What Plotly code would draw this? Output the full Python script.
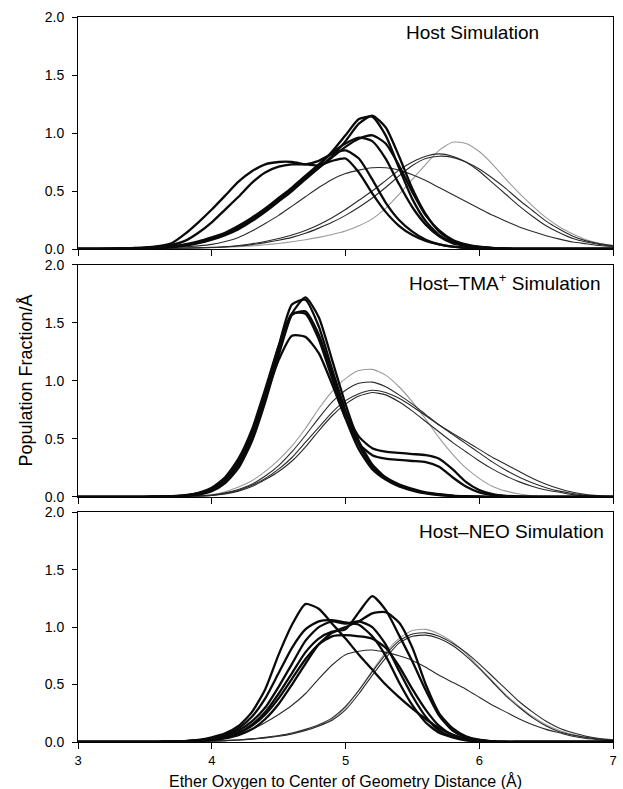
import plotly.graph_objects as go

# x grid (Å)
X = [3.0, 3.1, 3.2, 3.3, 3.4, 3.5, 3.6, 3.7, 3.8, 3.9,
     4.0, 4.1, 4.2, 4.3, 4.4, 4.5, 4.6, 4.7, 4.8, 4.9,
     5.0, 5.1, 5.2, 5.3, 5.4, 5.5, 5.6, 5.7, 5.8, 5.9,
     6.0, 6.1, 6.2, 6.3, 6.4, 6.5, 6.6, 6.7, 6.8, 6.9,
     7.0]

# ---------------- Host Simulation ----------------
host_b1 = [0, 0, 0.002, 0.004, 0.008, 0.013, 0.025, 0.05, 0.13, 0.23,
           0.34, 0.46, 0.58, 0.67, 0.73, 0.75, 0.75, 0.73, 0.72, 0.76,
           0.78, 0.66, 0.48, 0.32, 0.20, 0.12, 0.07, 0.04, 0.02, 0.01,
           0.005, 0, 0, 0, 0, 0, 0, 0, 0, 0,
           0]
host_b2 = [0, 0, 0.001, 0.003, 0.006, 0.01, 0.018, 0.035, 0.07, 0.14,
           0.23, 0.34, 0.45, 0.57, 0.66, 0.71, 0.73, 0.73, 0.76, 0.82,
           0.85, 0.78, 0.60, 0.40, 0.25, 0.15, 0.08, 0.04, 0.02, 0.01,
           0.005, 0, 0, 0, 0, 0, 0, 0, 0, 0,
           0]
host_b3 = [0, 0, 0.001, 0.002, 0.004, 0.007, 0.012, 0.02, 0.035, 0.06,
           0.09, 0.13, 0.19, 0.26, 0.34, 0.43, 0.52, 0.62, 0.72, 0.84,
           0.98, 1.12, 1.14, 0.98, 0.70, 0.43, 0.24, 0.12, 0.06, 0.03,
           0.015, 0.007, 0.003, 0, 0, 0, 0, 0, 0, 0,
           0]
host_b4 = [0, 0, 0.001, 0.002, 0.003, 0.006, 0.01, 0.017, 0.03, 0.05,
           0.08, 0.12, 0.17, 0.24, 0.32, 0.41, 0.50, 0.60, 0.70, 0.80,
           0.93, 1.08, 1.15, 1.05, 0.80, 0.52, 0.30, 0.15, 0.07, 0.035,
           0.015, 0.007, 0.003, 0, 0, 0, 0, 0, 0, 0,
           0]
host_b5 = [0, 0, 0.001, 0.002, 0.004, 0.007, 0.012, 0.02, 0.035, 0.055,
           0.085, 0.125, 0.18, 0.25, 0.33, 0.42, 0.51, 0.61, 0.70, 0.79,
           0.88, 0.95, 0.98, 0.91, 0.72, 0.49, 0.29, 0.16, 0.08, 0.04,
           0.02, 0.01, 0.004, 0, 0, 0, 0, 0, 0, 0,
           0]
host_b6 = [0, 0, 0.001, 0.002, 0.004, 0.007, 0.012, 0.022, 0.04, 0.065,
           0.10, 0.14, 0.20, 0.27, 0.35, 0.44, 0.53, 0.63, 0.73, 0.83,
           0.91, 0.96, 0.93, 0.78, 0.56, 0.36, 0.21, 0.11, 0.05, 0.025,
           0.01, 0.005, 0, 0, 0, 0, 0, 0, 0, 0,
           0]
host_t1 = [0, 0, 0.001, 0.002, 0.003, 0.005, 0.008, 0.012, 0.018, 0.027,
           0.04, 0.065, 0.10, 0.155, 0.22, 0.29, 0.37, 0.45, 0.53, 0.60,
           0.65, 0.68, 0.70, 0.70, 0.68, 0.64, 0.59, 0.53, 0.47, 0.41,
           0.35, 0.29, 0.24, 0.19, 0.15, 0.115, 0.085, 0.06, 0.045, 0.03,
           0.02]
host_t2 = [0, 0, 0, 0.001, 0.002, 0.003, 0.004, 0.006, 0.008, 0.011,
           0.015, 0.02, 0.03, 0.045, 0.065, 0.09, 0.12, 0.16, 0.21, 0.27,
           0.34, 0.42, 0.50, 0.59, 0.68, 0.75, 0.80, 0.82, 0.80, 0.75,
           0.67, 0.57, 0.47, 0.37, 0.28, 0.20, 0.14, 0.09, 0.06, 0.04,
           0.025]
host_t3 = [0, 0, 0, 0.001, 0.002, 0.003, 0.004, 0.005, 0.007, 0.01,
           0.013, 0.018, 0.026, 0.038, 0.055, 0.075, 0.10, 0.135, 0.18, 0.23,
           0.29, 0.36, 0.44, 0.53, 0.63, 0.72, 0.78, 0.80, 0.79, 0.75,
           0.69, 0.61, 0.52, 0.42, 0.33, 0.24, 0.17, 0.11, 0.07, 0.045,
           0.03]
host_g = [0, 0, 0, 0, 0.001, 0.002, 0.003, 0.004, 0.006, 0.008,
          0.011, 0.015, 0.02, 0.027, 0.036, 0.048, 0.063, 0.08, 0.10, 0.125,
          0.155, 0.20, 0.26, 0.35, 0.47, 0.60, 0.73, 0.85, 0.92, 0.91,
          0.84, 0.73, 0.60, 0.48, 0.37, 0.27, 0.19, 0.13, 0.08, 0.05,
          0.03]

# ---------------- Host–TMA+ Simulation ----------------
tma_b1 = [0, 0, 0, 0, 0, 0.001, 0.003, 0.006, 0.012, 0.03,
          0.07, 0.15, 0.30, 0.55, 0.90, 1.30, 1.66, 1.70, 1.47, 1.10,
          0.74, 0.45, 0.26, 0.16, 0.10, 0.06, 0.035, 0.02, 0.01, 0.005,
          0.002, 0, 0, 0, 0, 0, 0, 0, 0, 0,
          0]
tma_b2 = [0, 0, 0, 0, 0, 0.001, 0.002, 0.004, 0.009, 0.02,
          0.05, 0.12, 0.25, 0.48, 0.82, 1.22, 1.58, 1.72, 1.55, 1.18,
          0.80, 0.48, 0.28, 0.17, 0.11, 0.07, 0.04, 0.025, 0.012, 0.006,
          0.003, 0, 0, 0, 0, 0, 0, 0, 0, 0,
          0]
tma_b3 = [0, 0, 0, 0, 0, 0.001, 0.003, 0.006, 0.012, 0.028,
          0.065, 0.14, 0.28, 0.52, 0.88, 1.25, 1.57, 1.60, 1.40, 1.06,
          0.73, 0.52, 0.42, 0.39, 0.38, 0.37, 0.36, 0.33, 0.24, 0.13,
          0.06, 0.025, 0.01, 0.004, 0, 0, 0, 0, 0, 0,
          0]
tma_b4 = [0, 0, 0, 0, 0, 0.001, 0.003, 0.006, 0.012, 0.028,
          0.065, 0.14, 0.28, 0.52, 0.85, 1.18, 1.39, 1.38, 1.24, 0.97,
          0.68, 0.46, 0.36, 0.33, 0.32, 0.31, 0.30, 0.26, 0.17, 0.09,
          0.04, 0.015, 0.005, 0, 0, 0, 0, 0, 0, 0,
          0]
tma_b5 = [0, 0, 0, 0, 0, 0.001, 0.003, 0.007, 0.015, 0.035,
          0.08, 0.17, 0.33, 0.58, 0.93, 1.30, 1.58, 1.58, 1.36, 1.02,
          0.68, 0.41, 0.24, 0.15, 0.09, 0.055, 0.03, 0.015, 0.008, 0.004,
          0.002, 0, 0, 0, 0, 0, 0, 0, 0, 0,
          0]
tma_g = [0, 0, 0, 0, 0, 0.001, 0.002, 0.003, 0.005, 0.01,
         0.02, 0.045, 0.085, 0.14, 0.22, 0.32, 0.44, 0.59, 0.76, 0.91,
         1.02, 1.09, 1.10, 1.05, 0.95, 0.82, 0.67, 0.51, 0.37, 0.25,
         0.16, 0.09, 0.05, 0.025, 0.01, 0.005, 0, 0, 0, 0,
         0]
tma_t2 = [0, 0, 0, 0, 0, 0.001, 0.002, 0.003, 0.005, 0.009,
          0.016, 0.035, 0.065, 0.11, 0.18, 0.27, 0.39, 0.53, 0.68, 0.82,
          0.92, 0.98, 0.99, 0.95, 0.88, 0.80, 0.71, 0.62, 0.54, 0.46,
          0.38, 0.30, 0.23, 0.17, 0.12, 0.08, 0.05, 0.03, 0.015, 0.006,
          0.002]
tma_t3 = [0, 0, 0, 0, 0, 0.001, 0.002, 0.003, 0.005, 0.008,
          0.014, 0.03, 0.057, 0.10, 0.16, 0.24, 0.34, 0.47, 0.60, 0.73,
          0.83, 0.89, 0.92, 0.90, 0.85, 0.78, 0.70, 0.62, 0.55, 0.48,
          0.41, 0.34, 0.28, 0.22, 0.16, 0.11, 0.07, 0.04, 0.02, 0.01,
          0.003]
tma_t4 = [0, 0, 0, 0, 0, 0.001, 0.002, 0.003, 0.004, 0.007,
          0.012, 0.025, 0.05, 0.09, 0.15, 0.22, 0.31, 0.43, 0.57, 0.70,
          0.80, 0.87, 0.90, 0.88, 0.82, 0.74, 0.65, 0.56, 0.47, 0.39,
          0.31, 0.24, 0.18, 0.13, 0.09, 0.06, 0.04, 0.02, 0.01, 0.005,
          0]

# ---------------- Host–NEO Simulation ----------------
neo_b1 = [0, 0, 0, 0, 0, 0.001, 0.002, 0.004, 0.008, 0.018,
          0.04, 0.075, 0.14, 0.26, 0.46, 0.76, 1.02, 1.20, 1.16, 1.03,
          0.90, 0.76, 0.63, 0.50, 0.39, 0.29, 0.20, 0.12, 0.065, 0.03,
          0.015, 0.006, 0.002, 0, 0, 0, 0, 0, 0, 0,
          0]
neo_b2 = [0, 0, 0, 0, 0, 0.001, 0.002, 0.003, 0.006, 0.012,
          0.022, 0.042, 0.08, 0.15, 0.26, 0.42, 0.60, 0.78, 0.90, 0.96,
          0.98, 1.13, 1.27, 1.15, 0.93, 0.70, 0.45, 0.23, 0.10, 0.04,
          0.015, 0.005, 0, 0, 0, 0, 0, 0, 0, 0,
          0]
neo_b3 = [0, 0, 0, 0, 0, 0.001, 0.002, 0.003, 0.005, 0.009,
          0.016, 0.032, 0.06, 0.11, 0.20, 0.33, 0.50, 0.68, 0.85, 0.95,
          1.00, 1.05, 1.12, 1.13, 1.04, 0.82, 0.50, 0.25, 0.12, 0.05,
          0.02, 0.006, 0, 0, 0, 0, 0, 0, 0, 0,
          0]
neo_b4 = [0, 0, 0, 0, 0, 0.001, 0.002, 0.004, 0.008, 0.015,
          0.03, 0.06, 0.12, 0.22, 0.38, 0.60, 0.82, 0.98, 1.05, 1.06,
          1.04, 1.02, 0.92, 0.75, 0.52, 0.32, 0.17, 0.08, 0.04, 0.015,
          0.005, 0, 0, 0, 0, 0, 0, 0, 0, 0,
          0]
neo_b5 = [0, 0, 0, 0, 0, 0.001, 0.002, 0.003, 0.006, 0.012,
          0.022, 0.05, 0.10, 0.18, 0.30, 0.48, 0.68, 0.88, 1.00, 1.05,
          1.03, 1.05, 1.00, 0.85, 0.62, 0.40, 0.22, 0.10, 0.045, 0.02,
          0.005, 0, 0, 0, 0, 0, 0, 0, 0, 0,
          0]
neo_b6 = [0, 0, 0, 0, 0, 0.001, 0.002, 0.003, 0.006, 0.011,
          0.02, 0.04, 0.08, 0.14, 0.24, 0.38, 0.55, 0.72, 0.85, 0.92,
          0.93, 0.92, 0.90, 0.82, 0.66, 0.46, 0.28, 0.14, 0.06, 0.025,
          0.01, 0.003, 0, 0, 0, 0, 0, 0, 0, 0,
          0]
neo_t1 = [0, 0, 0, 0, 0, 0.001, 0.002, 0.003, 0.005, 0.01,
          0.02, 0.04, 0.07, 0.11, 0.17, 0.24, 0.32, 0.42, 0.55, 0.67,
          0.76, 0.79, 0.80, 0.78, 0.75, 0.71, 0.65, 0.58, 0.52, 0.46,
          0.39, 0.32, 0.26, 0.20, 0.15, 0.11, 0.08, 0.05, 0.03, 0.02,
          0.01]
neo_g = [0, 0, 0, 0, 0, 0, 0.001, 0.002, 0.003, 0.005,
         0.008, 0.012, 0.018, 0.026, 0.037, 0.052, 0.072, 0.10, 0.14, 0.20,
         0.30, 0.45, 0.62, 0.78, 0.90, 0.97, 0.98, 0.94, 0.87, 0.77,
         0.65, 0.53, 0.41, 0.31, 0.22, 0.15, 0.10, 0.065, 0.04, 0.025,
         0.015]
neo_t3 = [0, 0, 0, 0, 0, 0, 0.001, 0.002, 0.003, 0.005,
          0.008, 0.012, 0.018, 0.027, 0.04, 0.056, 0.078, 0.11, 0.15, 0.21,
          0.31, 0.45, 0.61, 0.76, 0.88, 0.94, 0.95, 0.92, 0.86, 0.78,
          0.68, 0.57, 0.46, 0.35, 0.26, 0.18, 0.12, 0.08, 0.05, 0.03,
          0.02]
neo_t4 = [0, 0, 0, 0, 0, 0, 0.001, 0.002, 0.003, 0.005,
          0.008, 0.012, 0.017, 0.025, 0.036, 0.05, 0.07, 0.10, 0.14, 0.19,
          0.28, 0.42, 0.58, 0.73, 0.86, 0.92, 0.93, 0.90, 0.84, 0.75,
          0.64, 0.52, 0.40, 0.30, 0.21, 0.14, 0.09, 0.06, 0.04, 0.025,
          0.015]

Y_TICKS = [0.0, 0.5, 1.0, 1.5, 2.0]
X_TICKS = [3, 4, 5, 6, 7]
PANEL_TITLES = ["Host Simulation", "Host–TMA<sup>+</sup> Simulation", "Host–NEO Simulation"]

panels = [
    {"thin": [host_t1, host_t2, host_t3], "gray": [host_g],
     "thick": [host_b1, host_b2, host_b3, host_b4, host_b5, host_b6]},
    {"thin": [tma_t2, tma_t3, tma_t4], "gray": [tma_g],
     "thick": [tma_b1, tma_b2, tma_b3, tma_b4, tma_b5]},
    {"thin": [neo_t1, neo_t3, neo_t4], "gray": [neo_g],
     "thick": [neo_b1, neo_b2, neo_b3, neo_b4, neo_b5, neo_b6]},
]

FONT = "Liberation Sans, Arial, Helvetica, sans-serif"
fig = go.Figure()
for i, p in enumerate(panels):
    xa = "x" if i == 0 else f"x{i+1}"
    ya = "y" if i == 0 else f"y{i+1}"
    for s in p["gray"]:
        fig.add_trace(go.Scatter(x=X, y=s, mode="lines", xaxis=xa, yaxis=ya,
                                 line=dict(color="#9a9a9a", width=1.1, shape="spline", smoothing=0.6),
                                 showlegend=False, hoverinfo="skip"))
    for s in p["thin"]:
        fig.add_trace(go.Scatter(x=X, y=s, mode="lines", xaxis=xa, yaxis=ya,
                                 line=dict(color="#2a2a2a", width=1.1, shape="spline", smoothing=0.6),
                                 showlegend=False, hoverinfo="skip"))
    for s in p["thick"]:
        fig.add_trace(go.Scatter(x=X, y=s, mode="lines", xaxis=xa, yaxis=ya,
                                 line=dict(color="#0a0a0a", width=2.3, shape="spline", smoothing=0.6),
                                 showlegend=False, hoverinfo="skip"))

# layout geometry (paper coords)
domains = [[0.680, 1.0], [0.338, 0.658], [0.0, 0.317]]
axis_common = dict(showline=True, linecolor="black", linewidth=1, mirror=True,
                   showgrid=False, zeroline=False, ticks="outside", tickcolor="black",
                   ticklen=6, tickwidth=1)
layout = dict(
    width=623, height=789,
    margin=dict(l=78, r=6, t=17, b=47),
    paper_bgcolor="white", plot_bgcolor="white",
    font=dict(family=FONT, color="black", size=14),
    showlegend=False,
)
for i in range(3):
    xk = "xaxis" if i == 0 else f"xaxis{i+1}"
    yk = "yaxis" if i == 0 else f"yaxis{i+1}"
    ya = "y" if i == 0 else f"y{i+1}"
    xa = "x" if i == 0 else f"x{i+1}"
    layout[xk] = dict(axis_common, range=[3, 7], tickvals=X_TICKS, anchor=ya,
                      showticklabels=(i == 2), domain=[0, 1],
                      tickfont=dict(size=13), ticklabelstandoff=0)
    layout[yk] = dict(axis_common, range=[0, 2.0], tickvals=Y_TICKS, tickformat=".1f",
                      anchor=xa, domain=domains[i], ticklen=5, tickfont=dict(size=14),
                      ticklabelstandoff=5)
fig.update_layout(**layout)

ann_pos = [(0.866, 0.979), (0.981, 0.634), (0.987, 0.290)]
for (ax, ay), t in zip(ann_pos, PANEL_TITLES):
    fig.add_annotation(x=ax, y=ay, xref="paper", yref="paper", text=t, showarrow=False,
                       xanchor="right", yanchor="middle", font=dict(size=19, family=FONT))

fig.add_annotation(x=0.5, y=-0.054, xref="paper", yref="paper",
                   text="Ether Oxygen to Center of Geometry Distance (Å)", showarrow=False,
                   xanchor="center", yanchor="middle", font=dict(size=16, family=FONT))
fig.add_annotation(x=-0.098, y=0.498, xref="paper", yref="paper",
                   text="Population Fraction/Å", textangle=-90, showarrow=False,
                   xanchor="center", yanchor="middle", font=dict(size=18, family=FONT))

fig.write_html("out.html")
